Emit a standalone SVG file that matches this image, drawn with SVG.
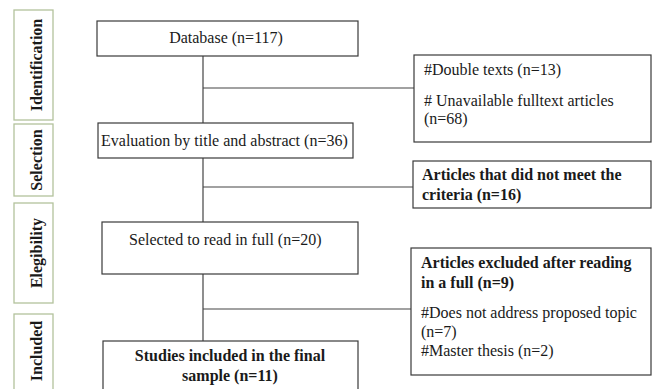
<svg xmlns="http://www.w3.org/2000/svg" width="652" height="389" viewBox="0 0 652 389">
<style>
.bg{fill:#ffffff}
.lab{fill:#ffffff;stroke:#b3c29c;stroke-width:1.3}
.labt{font-family:"Liberation Serif","DejaVu Serif","Times New Roman",serif;font-weight:bold;font-size:16px;fill:#1a1a1a;text-anchor:middle}
.box{fill:#ffffff;stroke:#3a3a3a;stroke-width:1.2}
.t{font-family:"Liberation Serif","DejaVu Serif","Times New Roman",serif;font-size:16px;fill:#1a1a1a}
.b{font-weight:bold}
.c{text-anchor:middle}
.ln{stroke:#444;stroke-width:1.2;fill:none}
</style>
<rect class="bg" x="0" y="0" width="652" height="389"/>
<g id="label-identification">
<rect class="lab" x="14" y="10" width="39" height="110"/>
<text class="labt" transform="translate(42,65) rotate(-90)">Identification</text>
</g>
<g id="label-selection">
<rect class="lab" x="14" y="124" width="39" height="72"/>
<text class="labt" transform="translate(42,160) rotate(-90)">Selection</text>
</g>
<g id="label-elegibility">
<rect class="lab" x="14" y="203" width="39" height="100"/>
<text class="labt" transform="translate(42,253) rotate(-90)">Elegibility</text>
</g>
<g id="label-included">
<rect class="lab" x="14" y="314" width="39" height="90"/>
<text class="labt" transform="translate(42,351) rotate(-90)">Included</text>
</g>
<g id="connectors">
<line class="ln" x1="203" y1="56" x2="203" y2="123"/>
<line class="ln" x1="203" y1="88" x2="414" y2="88"/>
<line class="ln" x1="203" y1="158" x2="203" y2="222"/>
<line class="ln" x1="203" y1="187" x2="413" y2="187"/>
<line class="ln" x1="203" y1="274" x2="203" y2="341"/>
<line class="ln" x1="203" y1="309" x2="411" y2="309"/>
</g>
<g id="database">
<rect class="box" x="97" y="21" width="261" height="35"/>
<text class="t c" x="226" y="43">Database (n=117)</text>
</g>
<g id="evaluation">
<rect class="box" x="98" y="123" width="255" height="35"/>
<text class="t" x="101" y="146">Evaluation by title and abstract (n=36)</text>
</g>
<g id="selected">
<rect class="box" x="102" y="222" width="256" height="52"/>
<text class="t" x="129" y="245">Selected to read in full (n=20)</text>
</g>
<g id="studies">
<rect class="box" x="103" y="341" width="255" height="60"/>
<text class="t b c" x="230" y="361">Studies included in the final</text>
<text class="t b c" x="230" y="381">sample (n=11)</text>
</g>
<g id="excluded-1">
<rect class="box" x="414" y="55" width="237" height="87"/>
<text class="t" x="424" y="75">#Double texts (n=13)</text>
<text class="t" x="424" y="106"># Unavailable fulltext articles</text>
<text class="t" x="424" y="124">(n=68)</text>
</g>
<g id="excluded-2">
<rect class="box" x="413" y="161" width="238" height="47"/>
<text class="t b" x="422" y="180">Articles that did not meet the</text>
<text class="t b" x="422" y="200">criteria (n=16)</text>
</g>
<g id="excluded-3">
<rect class="box" x="411" y="248" width="240" height="127"/>
<text class="t b" x="421" y="268">Articles excluded after reading</text>
<text class="t b" x="421" y="288">in a full (n=9)</text>
<text class="t" x="421" y="318">#Does not address proposed topic</text>
<text class="t" x="421" y="337">(n=7)</text>
<text class="t" x="421" y="356">#Master thesis (n=2)</text>
</g>
</svg>
